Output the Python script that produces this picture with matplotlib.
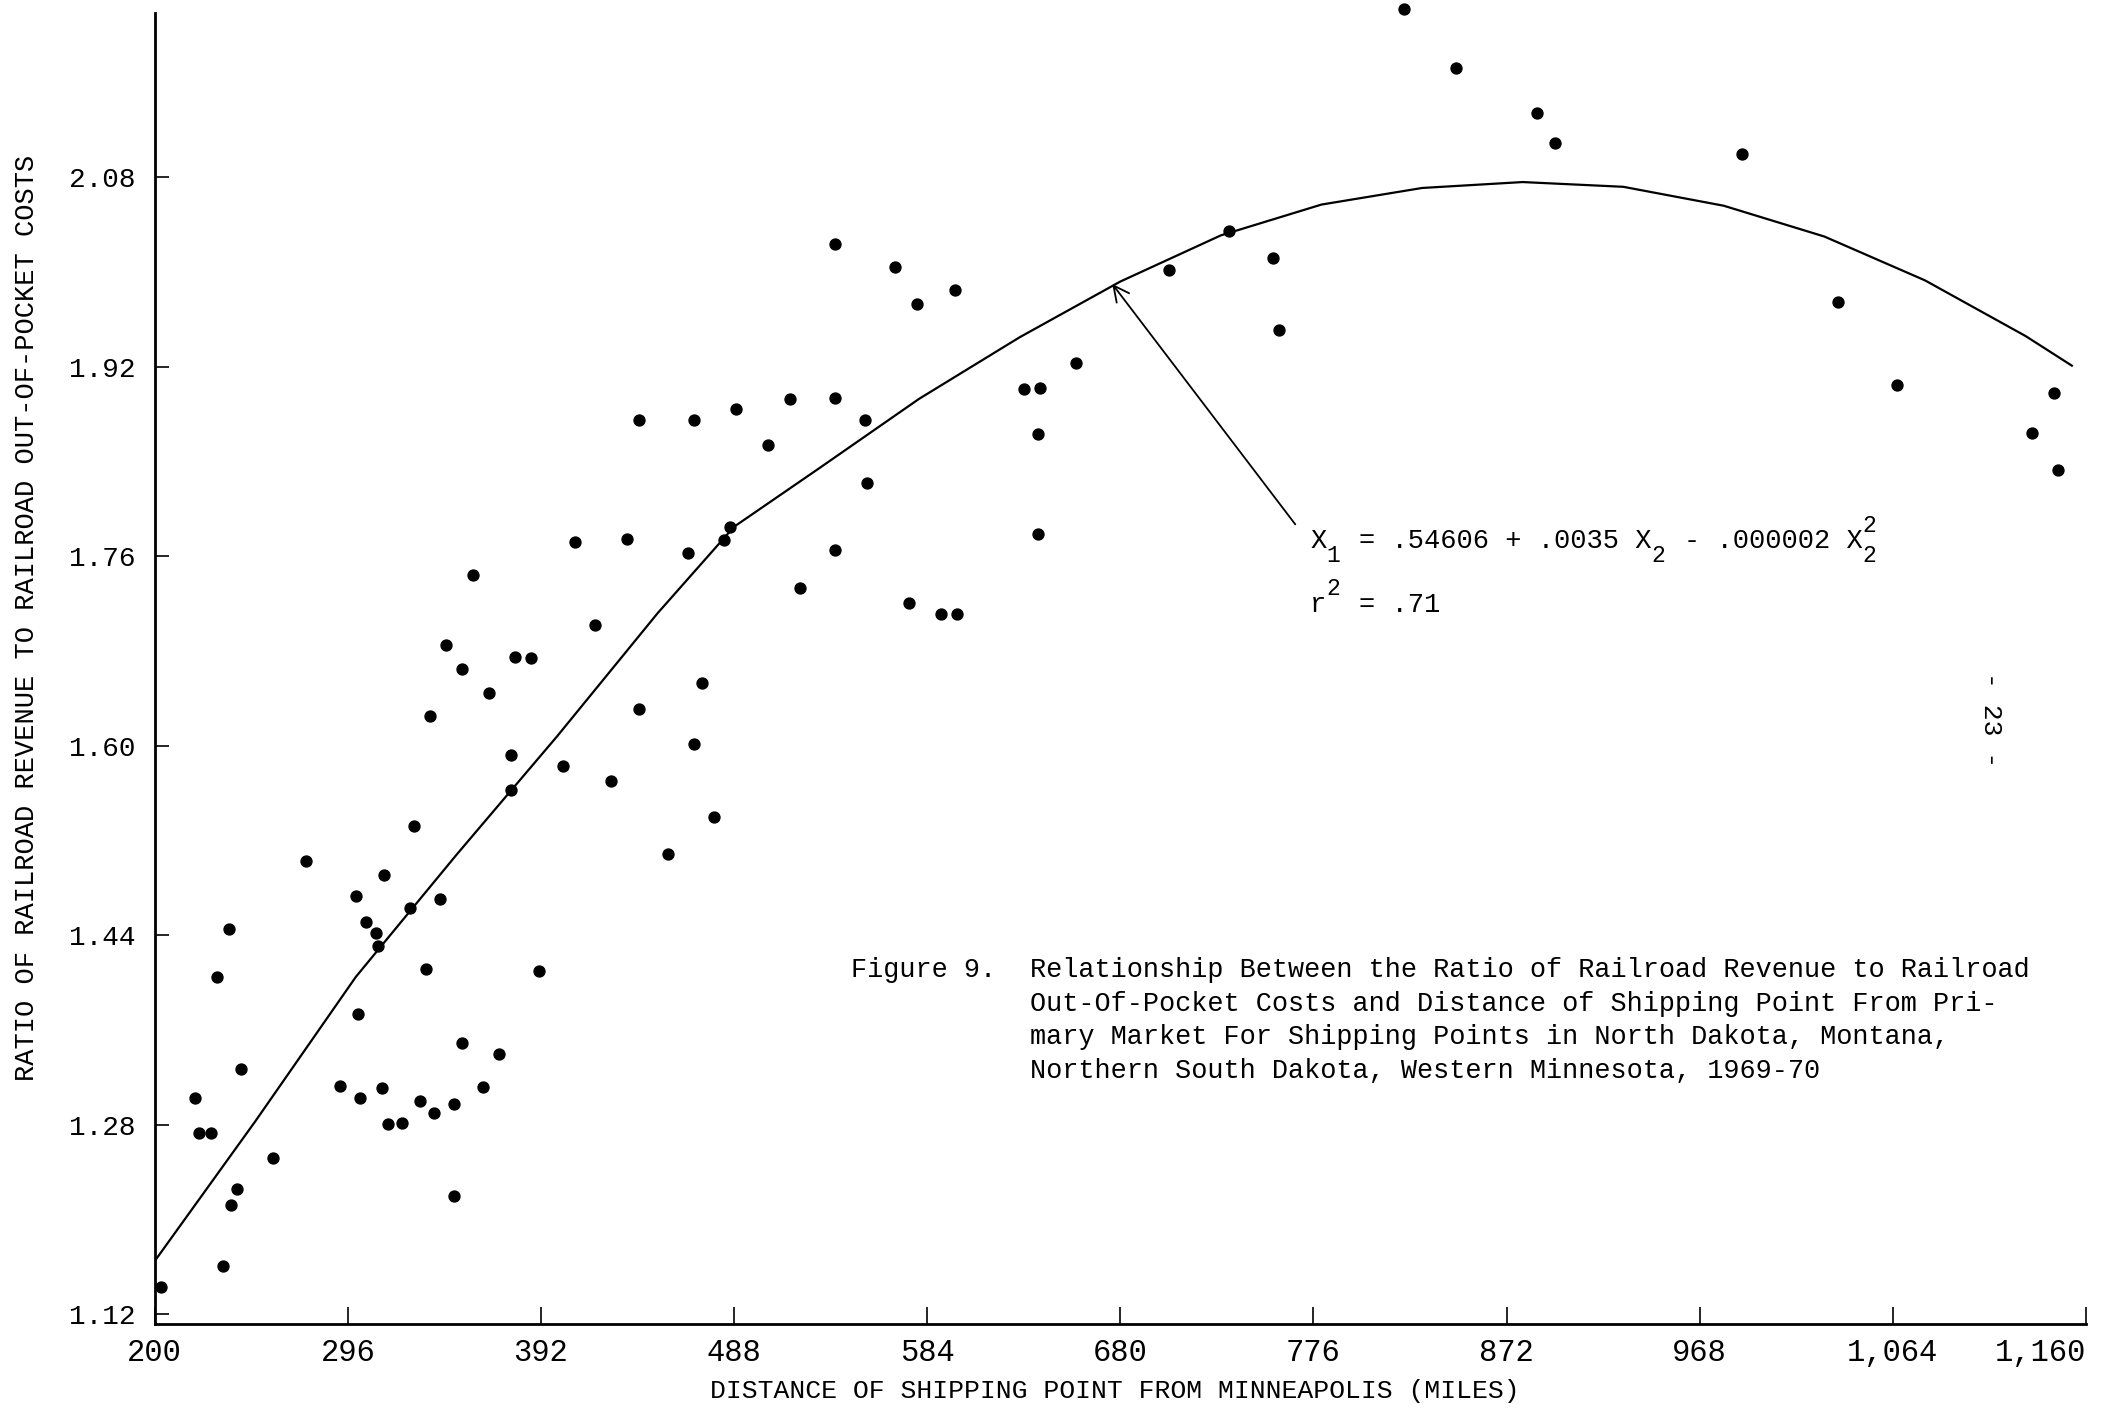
import numpy as np
import matplotlib
matplotlib.use("Agg")
import matplotlib.pyplot as plt
from matplotlib.transforms import ScaledTranslation

# shipping points: distance (miles) and revenue / out-of-pocket ratio
distance = [203, 220, 222, 228, 231, 234, 237, 238, 241, 243, 259, 275, 292, 300, 301,
            302, 305, 310, 311, 313, 314, 316, 323, 327, 329, 332, 335, 337, 339, 342,
            345, 349, 349, 353, 353, 358, 363, 366, 371, 377, 377, 379, 387, 391, 403,
            409, 419, 427, 435, 441, 441, 455, 465, 468, 468, 472, 478, 483, 486, 489,
            505, 516, 521, 538, 538, 538, 553, 554, 568, 575, 579, 591, 598, 599, 632,
            640, 639, 639, 658, 704, 734, 756, 759, 821, 847, 887, 896, 989, 1037, 1066,
            1133, 1144, 1146]
ratio = [1.143, 1.303, 1.273, 1.273, 1.405, 1.161, 1.445, 1.212, 1.226, 1.327, 1.252, 1.503,
         1.313, 1.473, 1.374, 1.303, 1.451, 1.442, 1.431, 1.311, 1.491, 1.281, 1.282, 1.463,
         1.532, 1.300, 1.412, 1.625, 1.290, 1.471, 1.685, 1.220, 1.298, 1.665, 1.349, 1.744,
         1.312, 1.645, 1.340, 1.592, 1.563, 1.675, 1.674, 1.410, 1.583, 1.772, 1.702, 1.570,
         1.775, 1.631, 1.875, 1.509, 1.763, 1.875, 1.602, 1.653, 1.540, 1.774, 1.785, 1.884,
         1.854, 1.893, 1.733, 2.024, 1.894, 1.765, 1.875, 1.822, 2.004, 1.721, 1.973, 1.711,
         1.985, 1.711, 1.901, 1.902, 1.863, 1.779, 1.923, 2.002, 2.035, 2.012, 1.951, 2.222,
         2.172, 2.134, 2.109, 2.100, 1.975, 1.905, 1.864, 1.898, 1.833]

# fitted curve as drawn on the chart
curve_x = [200, 250, 300, 350, 400, 450, 488, 530, 580, 630, 680, 730, 780, 830,
           880, 930, 980, 1030, 1080, 1130, 1153]
curve_y = [1.165, 1.283, 1.405, 1.508, 1.608, 1.712, 1.785, 1.834, 1.893, 1.945, 1.992,
           2.031, 2.057, 2.071, 2.076, 2.072, 2.056, 2.030, 1.993, 1.946, 1.921]

xticks = [200, 296, 392, 488, 584, 680, 776, 872, 968, 1064, 1160]
xtick_labels = ["200", "296", "392", "488", "584", "680", "776", "872", "968", "1,064", "1,160"]
yticks = [1.12, 1.28, 1.44, 1.60, 1.76, 1.92, 2.08]
ytick_labels = ["1.12", "1.28", "1.44", "1.60", "1.76", "1.92", "2.08"]

caption = [
    "Relationship Between the Ratio of Railroad Revenue to Railroad",
    "Out-Of-Pocket Costs and Distance of Shipping Point From Pri-",
    "mary Market For Shipping Points in North Dakota, Montana,",
    "Northern South Dakota, Western Minnesota, 1969-70",
]

plt.rcParams['font.family'] = ['Liberation Mono', 'DejaVu Sans Mono']

fig = plt.figure(figsize=(21.07, 14.08), dpi=100)
ax = fig.add_axes([0.0734, 0.0597, 0.9166, 0.9313])

ax.scatter(distance, ratio, s=62, color='black', zorder=3, clip_on=False)
ax.plot(curve_x, curve_y, color='black', lw=1.6)

ax.set_xlim(200, 1160)
ax.set_ylim(1.112, 2.219)

for side in ['top', 'right']:
    ax.spines[side].set_visible(False)
for side in ['left', 'bottom']:
    ax.spines[side].set_linewidth(2.0)

ax.set_xticks(xticks)
ax.set_xticklabels(xtick_labels, fontsize=22)
ax.get_xticklabels()[-1].set_horizontalalignment('right')
ax.set_yticks(yticks)
ax.set_yticklabels(ytick_labels, fontsize=20)
ax.tick_params(axis='x', direction='in', length=12, width=1.2, pad=10)
ax.tick_params(axis='y', direction='in', length=10, width=1.2, pad=14)

fig.text(0.529, 0.012, "DISTANCE OF SHIPPING POINT FROM MINNEAPOLIS (MILES)",
         ha='center', va='center', fontsize=19)
fig.text(0.0128, 0.561, "RATIO OF RAILROAD REVENUE TO RAILROAD OUT-OF-POCKET COSTS",
         ha='center', va='center', rotation=90, fontsize=19.5)

# regression annotation
ax.annotate("", xy=(676, 1.99), xytext=(767, 1.787),
            arrowprops=dict(arrowstyle='->', color='black', lw=1.3,
                            mutation_scale=28, shrinkA=0, shrinkB=0))

# typewriter-style equation: monospace columns, sub/superscripts offset by half a line
fs = 19.5
cw = 0.6 * fs
small = fs * 0.85


def put(x0, y0, s, col, dy, size):
    tr = fig.transFigure + ScaledTranslation(col * cw / 72, dy / 72, fig.dpi_scale_trans)
    fig.text(x0, y0, s, transform=tr, fontsize=size, ha='left', va='baseline')


eq_x, eq_y = 0.6218, 0.6108
put(eq_x, eq_y, "X", 0, 0, fs)
put(eq_x, eq_y, "1", 1, -0.5 * fs, small)
put(eq_x, eq_y, "= .54606 + .0035 X", 3, 0, fs)
put(eq_x, eq_y, "2", 21, -0.5 * fs, small)
put(eq_x, eq_y, "- .000002 X", 23, 0, fs)
put(eq_x, eq_y, "2", 34, -0.5 * fs, small)
put(eq_x, eq_y, "2", 34, 0.6 * fs, small)

r_y = 0.5656
put(eq_x, r_y, "r", 0, 0, fs)
put(eq_x, r_y, "2", 1, 0.6 * fs, small)
put(eq_x, r_y, "= .71", 3, 0, fs)

# figure caption
fig.text(0.404, 0.311, "Figure 9.", ha='left', va='center', fontsize=19.4)
for i, line in enumerate(caption):
    fig.text(0.489, 0.311 - i * 0.0239, line, ha='left', va='center', fontsize=19.4)

fig.text(0.945, 0.489, "- 23 -", ha='center', va='center', rotation=-90, fontsize=19)

fig.savefig("out.png", dpi=100, facecolor='white')
